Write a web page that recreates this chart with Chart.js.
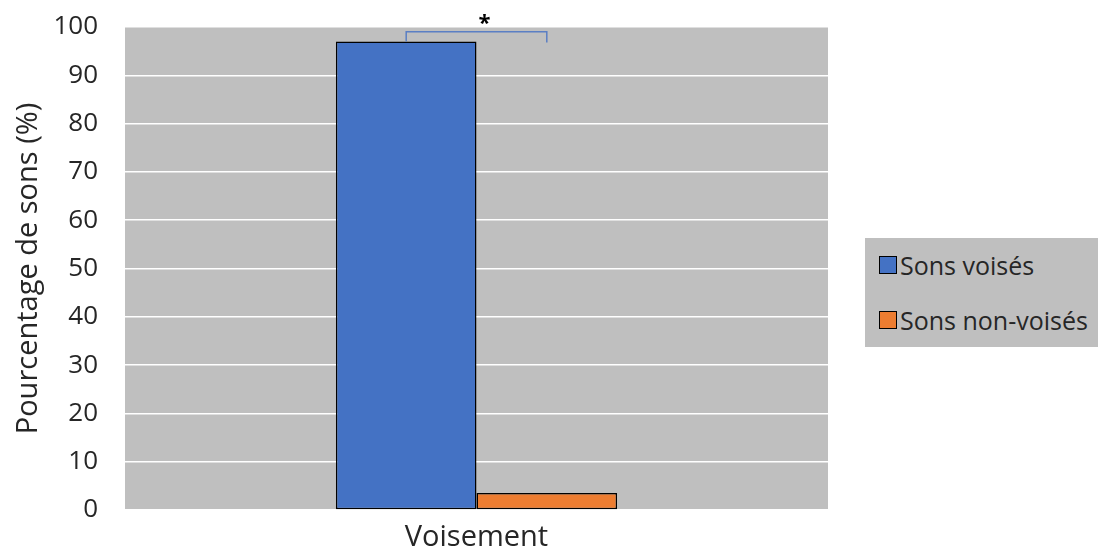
<!DOCTYPE html>
<html>
<head>
<meta charset="utf-8">
<script src="https://cdn.jsdelivr.net/npm/chart.js@4.4.1/dist/chart.umd.min.js"></script>
<style>
html,body{margin:0;padding:0;background:#fff;}
#wrap{position:relative;width:1098px;height:551px;}
canvas{display:block;}
#legend{position:absolute;left:865px;top:238px;width:233px;height:109px;background:#bfbfbf;font-family:"Open Sans","Noto Sans",sans-serif;font-size:25px;color:#262626;}
.item{position:absolute;left:14px;display:flex;align-items:center;white-space:nowrap;line-height:30px;}
.sw{width:18px;height:18px;border:1.5px solid #000;margin-right:3px;box-sizing:border-box;}
</style>
</head>
<body>
<div id="wrap">
<canvas id="c" width="1098" height="551"></canvas>
<div id="legend"></div>
</div>
<script>
const categories = ["Voisement"];
const seriesNames = ["Sons voisés", "Sons non-voisés"];
const voiced = [97.0];
const unvoiced = [3.5];
const yTicks = [0,10,20,30,40,50,60,70,80,90,100];
const colors = ["#4472C4", "#ED7D31"];

const font = '"Open Sans","Noto Sans",sans-serif';

const bgPlugin = {
  id: 'bg',
  beforeDraw(chart){
    const {ctx, chartArea:a} = chart;
    ctx.save();
    ctx.fillStyle = '#bfbfbf';
    ctx.fillRect(a.left, a.top, a.right-a.left, a.bottom-a.top);
    ctx.restore();
  }
};

const bracketPlugin = {
  id: 'bracket',
  afterDatasetsDraw(chart){
    const ctx = chart.ctx;
    const y = chart.scales.y;
    const m0 = chart.getDatasetMeta(0).data[0];
    const m1 = chart.getDatasetMeta(1).data[0];
    const x0 = m0.x, x1 = m1.x;
    const yTop = y.getPixelForValue(99.0);
    const yL = y.getPixelForValue(voiced[0]);
    const yR = y.getPixelForValue(96.8);
    ctx.save();
    ctx.strokeStyle = '#5b7fc4';
    ctx.lineWidth = 1.5;
    ctx.beginPath();
    ctx.moveTo(x0, yL);
    ctx.lineTo(x0, yTop);
    ctx.lineTo(x1, yTop);
    ctx.lineTo(x1, yR);
    ctx.stroke();
    ctx.fillStyle = '#000';
    ctx.font = 'bold 22px ' + font;
    ctx.textAlign = 'center';
    ctx.textBaseline = 'middle';
    ctx.fillText('*', (x0+x1)/2 + 8, y.getPixelForValue(101.3) + 3);
    ctx.restore();
  }
};

new Chart(document.getElementById('c'), {
  type: 'bar',
  data: {
    labels: categories,
    datasets: [
      {label: seriesNames[0], data: voiced, backgroundColor: colors[0], borderColor: '#000', borderWidth: 1.5, borderSkipped: false},
      {label: seriesNames[1], data: unvoiced, backgroundColor: colors[1], borderColor: '#000', borderWidth: 1.5, borderSkipped: false}
    ]
  },
  options: {
    responsive: false,
    animation: false,
    devicePixelRatio: 1,
    layout: {padding: {left: 0, right: 270, top: 27, bottom: 0}},
    plugins: {legend: {display: false}, tooltip: {enabled: false}},
    datasets: {bar: {categoryPercentage: 0.4, barPercentage: 1.0}},
    scales: {
      x: {
        grid: {display: false},
        border: {display: false},
        ticks: {color: '#262626', font: {family: font, size: 29}, padding: 2},
        afterFit(s){ s.height = 41; }
      },
      y: {
        min: 0, max: 100,
        afterBuildTicks(s){ s.ticks = yTicks.map(v => ({value: v})); },
        grid: {color: '#ffffff', lineWidth: 1.5, drawTicks: true, tickLength: 27, tickColor: 'rgba(0,0,0,0)'},
        border: {display: false},
        ticks: {color: '#262626', font: {family: font, size: 26}, padding: 0},
        title: {display: true, text: 'Pourcentage de sons (%)', color: '#262626', font: {family: font, size: 29}, padding: {top: 11, bottom: 0}},
        afterFit(s){ s.width = 125; }
      }
    }
  },
  plugins: [bgPlugin, bracketPlugin]
});

const leg = document.getElementById('legend');
const tops = [12, 67];
seriesNames.forEach((n, i) => {
  const d = document.createElement('div');
  d.className = 'item';
  d.style.top = tops[i] + 'px';
  const sw = document.createElement('span');
  sw.className = 'sw';
  sw.style.background = colors[i];
  const t = document.createElement('span');
  t.textContent = n;
  d.appendChild(sw); d.appendChild(t);
  leg.appendChild(d);
});
</script>
</body>
</html>
